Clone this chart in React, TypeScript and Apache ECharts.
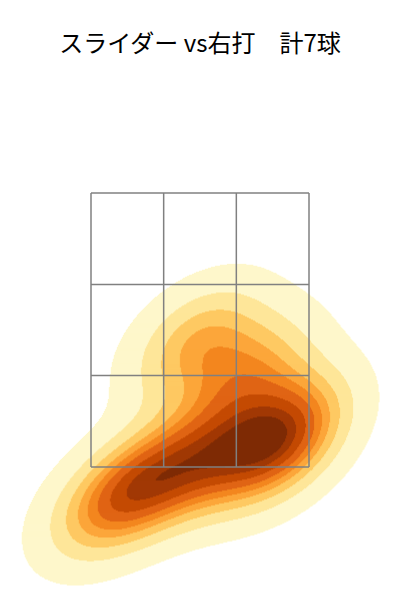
import React, { useEffect, useRef } from "react";
import * as echarts from "echarts";

// ---- data ----
const chartTitle = "スライダー vs右打　計7球";
// pitch locations (ft): horizontal position / height
const pitchX = [0.045, 0.305, 0.533, -0.318, -0.026, 0.494, -0.591];
const pitchY = [1.544, 2.172, 1.785, 1.42, 2.42, 1.609, 1.223];
// strike zone boundaries (3x3)
const zoneX = [-0.708, -0.236, 0.236, 0.708];
const zoneY = [1.5, 2.167, 2.833, 3.5];
// iso-proportion levels of the KDE (levels=10, thresh=0.05)
const isoProps = [0.05, 0.1556, 0.2611, 0.3667, 0.4722, 0.5778, 0.6833, 0.7889, 0.8944, 1.0];
const bandColors = [
  "#fef7cb",
  "#fee699",
  "#fec962",
  "#fca63a",
  "#f3861f",
  "#e06414",
  "#c44a03",
  "#a13804",
  "#7f2b05",
];

// ---- Gaussian KDE (Scott's rule) ----
function makeKde(xs: number[], ys: number[]) {
  const n = xs.length;
  const mx = xs.reduce((a, b) => a + b, 0) / n;
  const my = ys.reduce((a, b) => a + b, 0) / n;
  let sxx = 0, syy = 0, sxy = 0;
  for (let i = 0; i < n; i++) {
    sxx += (xs[i] - mx) ** 2;
    syy += (ys[i] - my) ** 2;
    sxy += (xs[i] - mx) * (ys[i] - my);
  }
  const f2 = Math.pow(n, -2 / 6);
  const a = (sxx / (n - 1)) * f2;
  const d = (syy / (n - 1)) * f2;
  const b = (sxy / (n - 1)) * f2;
  const det = a * d - b * b;
  const ia = d / det, id = a / det, ib = -b / det;
  return (x: number, y: number) => {
    let s = 0;
    for (let i = 0; i < n; i++) {
      const dx = x - xs[i];
      const dy = y - ys[i];
      s += Math.exp(-0.5 * (ia * dx * dx + 2 * ib * dx * dy + id * dy * dy));
    }
    return s;
  };
}

function computeLevels(dens: (x: number, y: number) => number) {
  const vals: number[] = [];
  for (let x = -3.0; x <= 3.0; x += 0.02) {
    for (let y = -1.5; y <= 4.5; y += 0.02) vals.push(dens(x, y));
  }
  vals.sort((p, q) => q - p);
  const total = vals.reduce((p, q) => p + q, 0);
  const cum: number[] = [];
  let c = 0;
  for (const v of vals) {
    c += v;
    cum.push(c / total);
  }
  return isoProps.map((p) => {
    const target = 1 - p;
    let lo = 0, hi = cum.length;
    while (lo < hi) {
      const mid = (lo + hi) >> 1;
      if (cum[mid] < target) lo = mid + 1;
      else hi = mid;
    }
    return vals[Math.min(lo, vals.length - 1)];
  });
}

function buildRuns(stepX: number, stepY: number) {
  const dens = makeKde(pitchX, pitchY);
  const levels = computeLevels(dens);
  const runs: number[][] = [];
  for (let y = 0.4; y <= 3.3; y += stepY) {
    let cur = -1, start = 0, last = 0;
    for (let x = -1.4; x <= 1.4 + 1e-9; x += stepX) {
      const v = dens(x, y);
      let band = -1;
      for (let k = 0; k < levels.length - 1; k++) if (v >= levels[k]) band = k;
      if (band !== cur) {
        if (cur >= 0) runs.push([start - stepX / 2, last + stepX / 2, y, cur]);
        cur = band;
        start = x;
      }
      last = x;
    }
    if (cur >= 0) runs.push([start - stepX / 2, last + stepX / 2, y, cur]);
  }
  return runs;
}

export default function App() {
  const ref = useRef<HTMLDivElement>(null);
  useEffect(() => {
    document.body.style.margin = "0";
    if (!ref.current) return;
    const chart = echarts.init(ref.current, undefined, { renderer: "svg" });
    const stepX = 0.0065;
    const stepY = 0.0073;
    const runs = buildRuns(stepX, stepY);

    const zoneLines: number[][] = [];
    zoneX.forEach((x) => zoneLines.push([x, zoneY[0], x, zoneY[zoneY.length - 1]]));
    zoneY.forEach((y) => zoneLines.push([zoneX[0], y, zoneX[zoneX.length - 1], y]));

    chart.setOption({
      animation: false,
      title: {
        text: chartTitle,
        left: "center",
        top: 24,
        textStyle: {
          fontSize: 24,
          fontWeight: "normal",
          color: "#000",
          fontFamily: '"Noto Sans CJK JP", "Noto Sans", sans-serif',
        },
      },
      grid: { left: 91, right: 91, top: 193, bottom: 133 },
      xAxis: { type: "value", min: zoneX[0], max: zoneX[3], show: false },
      yAxis: { type: "value", min: zoneY[0], max: zoneY[3], show: false },
      series: [
        {
          type: "custom",
          clip: false,
          silent: true,
          data: runs,
          encode: { x: [0, 1], y: 2 },
          renderItem: (params: any, api: any) => {
            const p0 = api.coord([api.value(0), api.value(2) + stepY / 2]);
            const p1 = api.coord([api.value(1), api.value(2) - stepY / 2]);
            return {
              type: "rect",
              shape: {
                x: p0[0] - 0.2,
                y: p0[1] - 0.3,
                width: p1[0] - p0[0] + 0.4,
                height: p1[1] - p0[1] + 0.6,
              },
              style: { fill: bandColors[api.value(3)] },
            };
          },
          z: 1,
        },
        {
          type: "custom",
          clip: false,
          silent: true,
          data: zoneLines,
          encode: { x: [0, 2], y: [1, 3] },
          renderItem: (params: any, api: any) => {
            const p0 = api.coord([api.value(0), api.value(1)]);
            const p1 = api.coord([api.value(2), api.value(3)]);
            return {
              type: "line",
              shape: { x1: p0[0], y1: p0[1], x2: p1[0], y2: p1[1] },
              style: { stroke: "#808080", lineWidth: 1.5 },
            };
          },
          z: 5,
        },
      ],
    });
    return () => chart.dispose();
  }, []);
  return <div ref={ref} style={{ width: 400, height: 600 }} />;
}
